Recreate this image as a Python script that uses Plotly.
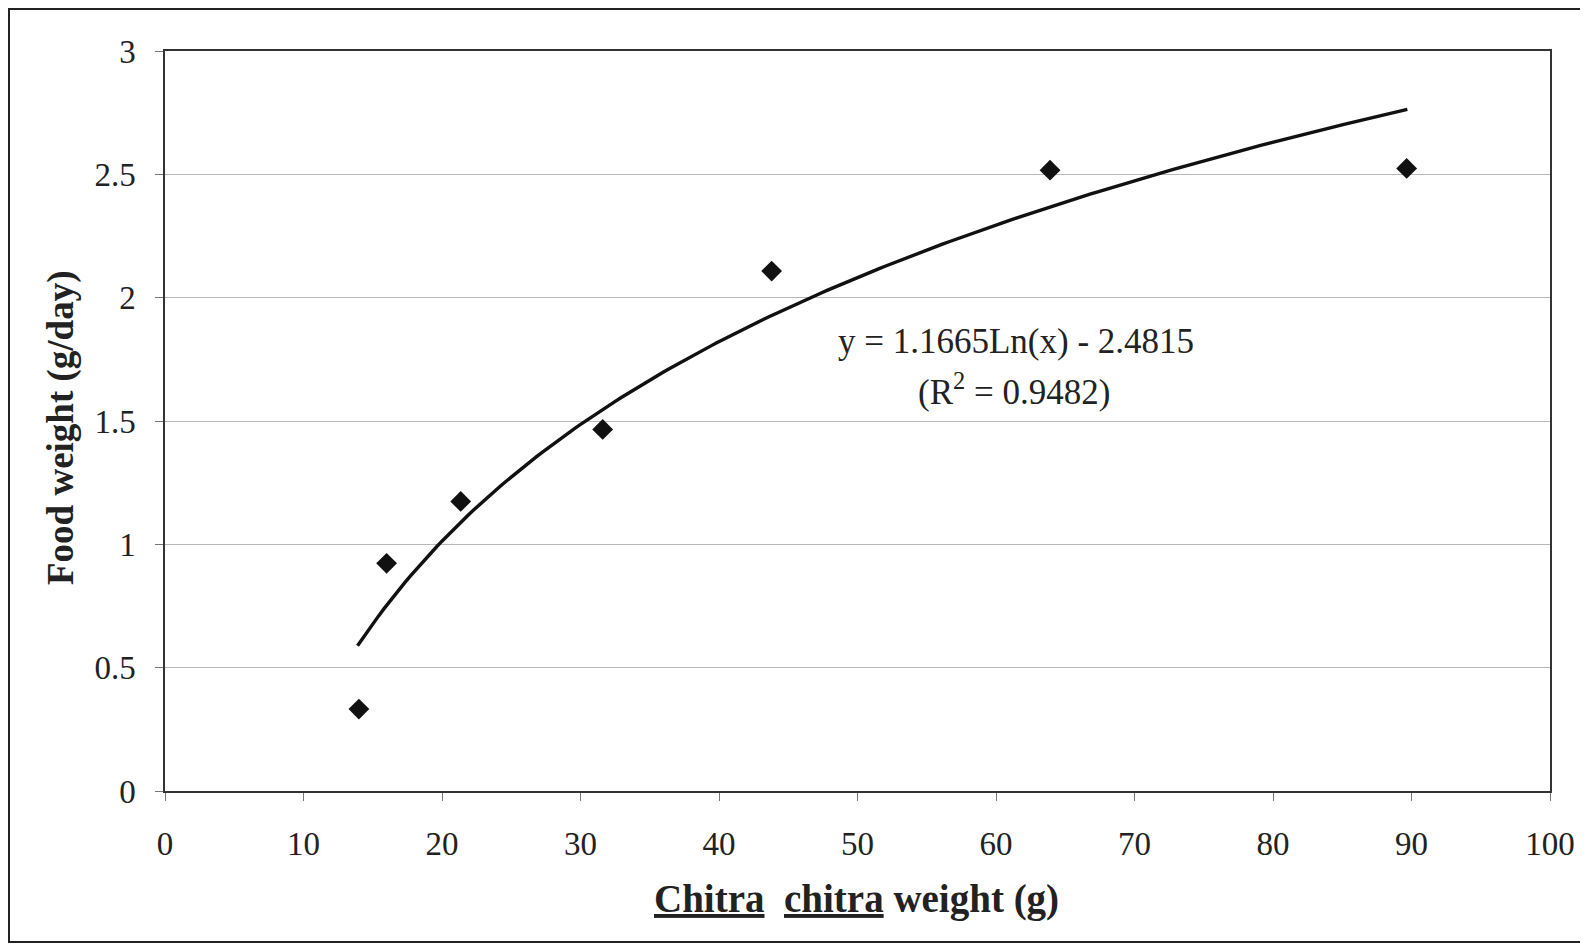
import numpy as np
import plotly.graph_objects as go

turtle_weight_g = [14.0, 16.0, 21.35, 31.6, 43.8, 63.9, 89.65]
food_weight_g_day = [0.332, 0.923, 1.174, 1.466, 2.108, 2.517, 2.524]

# Logarithmic trendline as printed on the chart
trend_slope = 1.1665
trend_intercept = -2.4815
trend_x_start = 13.9
trend_x_end = 89.7
equation_line1 = "y = 1.1665Ln(x) - 2.4815"
equation_line2 = "(R<sup>2</sup> = 0.9482)"

x_ticks = [0, 10, 20, 30, 40, 50, 60, 70, 80, 90, 100]
y_ticks = [0, 0.5, 1, 1.5, 2, 2.5, 3]
y_tick_text = ["0", "0.5", "1", "1.5", "2", "2.5", "3"]

x_title = "<b><u>Chitra</u>  <u>chitra</u> weight (g)</b>"
y_title = "<b>Food weight (g/day)</b>"

trend_x = np.linspace(trend_x_start, trend_x_end, 200)
trend_y = trend_slope * np.log(trend_x) + trend_intercept

# page has an 8px body margin; work in page pixels and shift
OFF = 8
W, H = 1588 - OFF, 949 - OFF
L, R, T, B = 165 - OFF, 1550 - OFF, 51 - OFF, 791 - OFF
pw, ph = R - L, B - T


def px(xp):
    return (xp - OFF - L) / pw


def py(yp):
    return (B - (yp - OFF)) / ph


FONT = "Liberation Serif, Times New Roman, serif"
INK = "#222222"

fig = go.Figure()
fig.add_trace(go.Scatter(
    x=trend_x, y=trend_y, mode="lines",
    line=dict(color="#111111", width=3.4),
    hoverinfo="skip", showlegend=False))
fig.add_trace(go.Scatter(
    x=turtle_weight_g, y=food_weight_g_day, mode="markers",
    marker=dict(symbol="diamond", size=16, color="#111111",
                line=dict(width=0)),
    showlegend=False))

fig.update_layout(
    width=W, height=H,
    margin=dict(l=L, r=W - R, t=T, b=H - B),
    paper_bgcolor="white", plot_bgcolor="white",
    font=dict(family=FONT, color=INK, size=33),
    xaxis=dict(range=[0, 100], tickvals=x_ticks, showgrid=False,
               zeroline=False, showline=True, linecolor="#333333",
               linewidth=1.5, mirror=True, ticks="outside", ticklen=8,
               tickcolor="#777777", tickwidth=1.2,
               tickfont=dict(family=FONT, size=33, color=INK),
               ticklabelstandoff=15),
    yaxis=dict(range=[0, 3], tickvals=y_ticks, ticktext=y_tick_text,
               showgrid=True, gridcolor="#b8b8b8", gridwidth=1.3,
               zeroline=False, showline=True, linecolor="#333333",
               linewidth=1.5, mirror=True, ticks="outside", ticklen=8,
               tickcolor="#777777", tickwidth=1.2,
               tickfont=dict(family=FONT, size=33, color=INK),
               ticklabelstandoff=13),
)

fig.add_annotation(text=equation_line1, x=px(1016), y=py(341),
                   xref="paper", yref="paper", showarrow=False,
                   xanchor="center", yanchor="middle",
                   font=dict(family=FONT, size=35, color=INK))
fig.add_annotation(text=equation_line2, x=px(1014), y=py(389),
                   xref="paper", yref="paper", showarrow=False,
                   xanchor="center", yanchor="middle",
                   font=dict(family=FONT, size=35, color=INK))

fig.add_annotation(text=x_title, x=px(856), y=py(899),
                   xref="paper", yref="paper", showarrow=False,
                   xanchor="center", yanchor="middle",
                   font=dict(family=FONT, size=39, color=INK))
fig.add_annotation(text=y_title, x=px(61), y=py(428),
                   xref="paper", yref="paper", showarrow=False,
                   textangle=-90, xanchor="center", yanchor="middle",
                   font=dict(family=FONT, size=37, color=INK))

# Outer frame around the whole figure
fig.add_shape(type="rect", xref="paper", yref="paper",
              x0=px(9), x1=px(1585),
              y0=py(942), y1=py(9),
              line=dict(color="#222222", width=2), layer="below")

fig.write_html("out.html")
